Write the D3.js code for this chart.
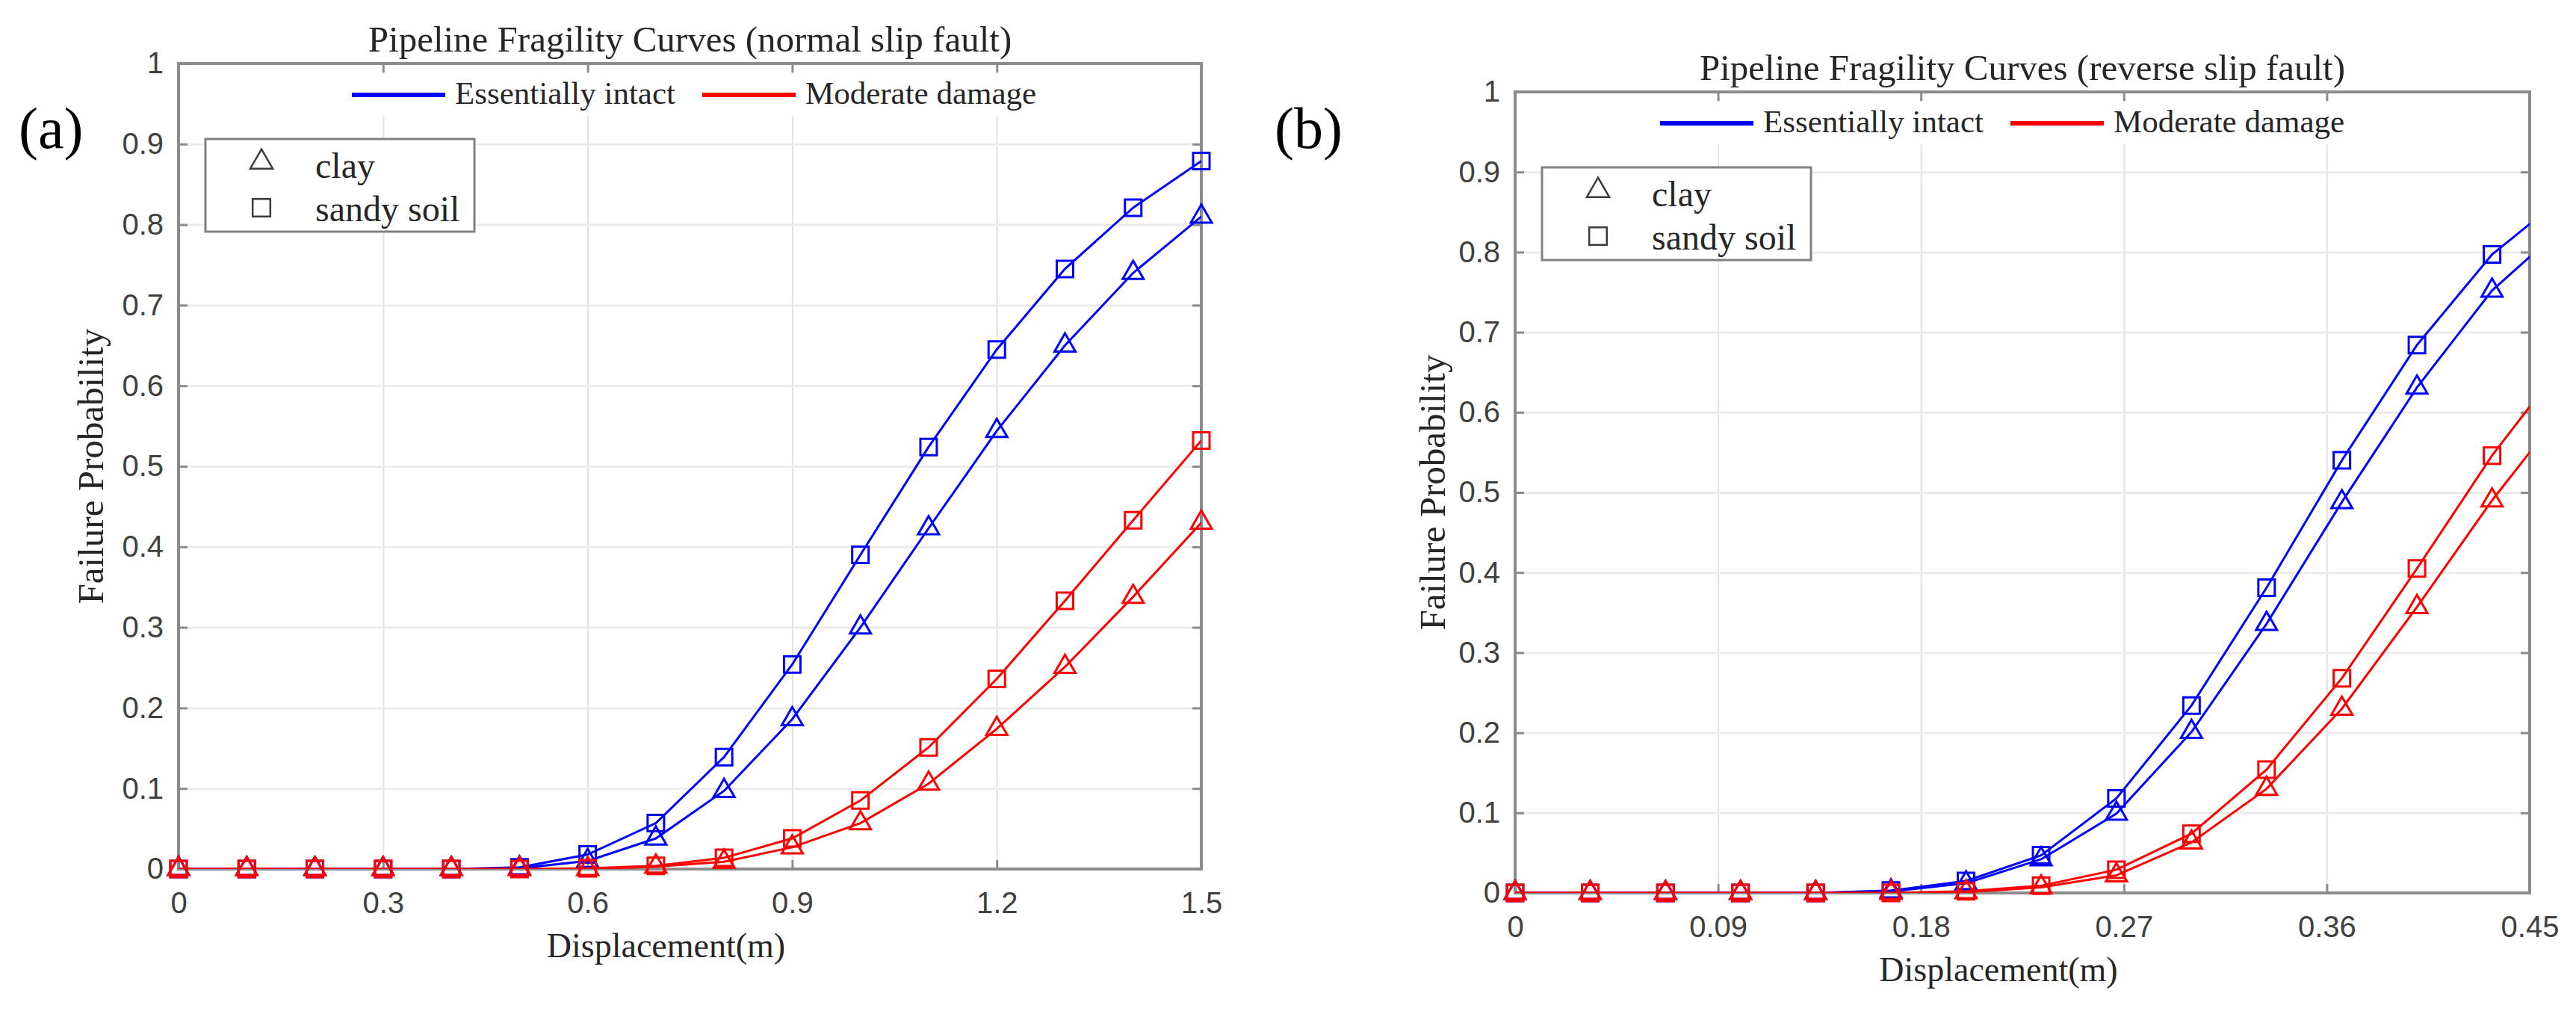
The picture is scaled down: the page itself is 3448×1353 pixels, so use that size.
<!DOCTYPE html>
<html lang="en">
<head>
    <meta charset="UTF-8">
    <title>Pipeline Fragility Curves</title>
    <script src="https://d3js.org/d3.v7.min.js"></script>
    <style>
        body {
            margin: 0;
            background: #fff;
        }
        svg {
            display: block;
        }
        .axis text {
            font-family: "Liberation Sans", Arial, sans-serif;
            font-size: 40px;
            fill: #404040;
        }
        .serif {
            font-family: "Liberation Serif", "Times New Roman", serif;
            fill: #262626;
        }
    </style>
</head>
<body>
    <svg width="3448" height="1353"></svg>

    <script>
        // ---- (a) normal slip fault ----
        const dispA = [0, 0.1, 0.2, 0.3, 0.4, 0.5, 0.6, 0.7, 0.8, 0.9, 1.0, 1.1, 1.2, 1.3, 1.4, 1.5];
        const intactSandA = [0, 0, 0, 0, 0, 0.002, 0.018, 0.057, 0.139, 0.254, 0.390, 0.524, 0.645, 0.745, 0.821, 0.879];
        const intactClayA = [0, 0, 0, 0, 0, 0.001, 0.010, 0.038, 0.097, 0.186, 0.300, 0.423, 0.544, 0.650, 0.740, 0.810];
        const moderateSandA = [0, 0, 0, 0, 0, 0, 0.001, 0.004, 0.014, 0.038, 0.085, 0.151, 0.236, 0.333, 0.433, 0.532];
        const moderateClayA = [0, 0, 0, 0, 0, 0, 0, 0.003, 0.009, 0.027, 0.057, 0.106, 0.174, 0.251, 0.338, 0.430];

        // ---- (b) reverse slip fault (last point lies past the axis edge) ----
        const dispB = [0, 0.0333, 0.0667, 0.1, 0.1333, 0.1667, 0.2, 0.2333, 0.2667, 0.3, 0.3333, 0.3667, 0.4, 0.4333, 0.4667];
        const intactSandB = [0, 0, 0, 0, 0, 0.003, 0.015, 0.047, 0.118, 0.234, 0.381, 0.540, 0.684, 0.797, 0.873];
        const intactClayB = [0, 0, 0, 0, 0, 0.002, 0.012, 0.042, 0.099, 0.201, 0.336, 0.488, 0.631, 0.752, 0.836];
        const moderateSandB = [0, 0, 0, 0, 0, 0, 0.002, 0.009, 0.029, 0.074, 0.154, 0.268, 0.405, 0.546, 0.668];
        const moderateClayB = [0, 0, 0, 0, 0, 0, 0.001, 0.007, 0.022, 0.063, 0.130, 0.230, 0.357, 0.490, 0.610];

        // ticks and labels
        const yTicks = [0, 0.1, 0.2, 0.3, 0.4, 0.5, 0.6, 0.7, 0.8, 0.9, 1];
        const xTicksA = [0, 0.3, 0.6, 0.9, 1.2, 1.5];
        const xTicksB = [0, 0.09, 0.18, 0.27, 0.36, 0.45];
        const damageStates = ["Essentially intact", "Moderate damage"];
        const soilTypes = ["clay", "sandy soil"];

        const stateColor = { "Essentially intact": "#0000ff", "Moderate damage": "#ff0000" };
        const soilSymbol = { "clay": d3.symbolTriangle, "sandy soil": d3.symbolSquare };
        const symbolSize = { "clay": 340, "sandy soil": 484 };

        const panels = [
            {
                tag: "(a)", title: "Pipeline Fragility Curves (normal slip fault)",
                disp: dispA, xTicks: xTicksA, xMax: 1.5,
                series: [
                    { values: intactSandA, state: "Essentially intact", soil: "sandy soil" },
                    { values: intactClayA, state: "Essentially intact", soil: "clay" },
                    { values: moderateSandA, state: "Moderate damage", soil: "sandy soil" },
                    { values: moderateClayA, state: "Moderate damage", soil: "clay" }
                ],
                box: { left: 239, right: 1608, top: 85, bottom: 1163 },
                tagX: 25, yLabelGap: 101, legendX: 232
            },
            {
                tag: "(b)", title: "Pipeline Fragility Curves (reverse slip fault)",
                disp: dispB, xTicks: xTicksB, xMax: 0.45,
                series: [
                    { values: intactSandB, state: "Essentially intact", soil: "sandy soil" },
                    { values: intactClayB, state: "Essentially intact", soil: "clay" },
                    { values: moderateSandB, state: "Moderate damage", soil: "sandy soil" },
                    { values: moderateClayB, state: "Moderate damage", soil: "clay" }
                ],
                box: { left: 2028, right: 3386, top: 123, bottom: 1195 },
                tagX: 1706, yLabelGap: 94, legendX: 194
            }
        ];

        const svg = d3.select("svg");

        panels.forEach((p, i) => {
            const b = p.box;
            const w = b.right - b.left;
            const h = b.bottom - b.top;
            const g = svg.append("g");

            const x = d3.scaleLinear().domain([0, p.xMax]).range([b.left, b.right]);
            const y = d3.scaleLinear().domain([0, 1]).range([b.bottom, b.top]);

            // grid lines
            g.append("g")
                .attr("transform", `translate(0,${b.bottom})`)
                .call(d3.axisBottom(x).tickValues(p.xTicks).tickSize(-h).tickFormat(""))
                .call(s => s.select(".domain").remove())
                .selectAll("line").attr("stroke", "#e2e2e2").attr("stroke-width", 2);
            g.append("g")
                .attr("transform", `translate(${b.left},0)`)
                .call(d3.axisLeft(y).tickValues(yTicks).tickSize(-w).tickFormat(""))
                .call(s => s.select(".domain").remove())
                .selectAll("line").attr("stroke", "#ebebeb").attr("stroke-width", 3);

            // box
            g.append("rect")
                .attr("x", b.left).attr("y", b.top)
                .attr("width", w).attr("height", h)
                .attr("fill", "none")
                .attr("stroke", "#8c8c8c")
                .attr("stroke-width", 4);

            // axes, ticks pointing inward on all four sides
            const axisStyle = s => {
                s.select(".domain").remove();
                s.selectAll(".tick line").attr("stroke", "#8c8c8c").attr("stroke-width", 3);
            };
            g.append("g").attr("class", "axis")
                .attr("transform", `translate(0,${b.bottom})`)
                .call(d3.axisBottom(x).tickValues(p.xTicks).tickSizeInner(-12).tickSizeOuter(0).tickPadding(31).tickFormat(d => d))
                .call(axisStyle);
            g.append("g").attr("class", "axis")
                .attr("transform", `translate(0,${b.top})`)
                .call(d3.axisTop(x).tickValues(p.xTicks).tickSizeInner(-12).tickSizeOuter(0).tickFormat(""))
                .call(axisStyle);
            g.append("g").attr("class", "axis")
                .attr("transform", `translate(${b.left},0)`)
                .call(d3.axisLeft(y).tickValues(yTicks).tickSizeInner(-12).tickSizeOuter(0).tickPadding(20).tickFormat(d => d))
                .call(axisStyle);
            g.append("g").attr("class", "axis")
                .attr("transform", `translate(${b.right},0)`)
                .call(d3.axisRight(y).tickValues(yTicks).tickSizeInner(-12).tickSizeOuter(0).tickFormat(""))
                .call(axisStyle);

            // clip for the curves
            const clipId = "clip" + i;
            svg.append("clipPath").attr("id", clipId)
                .append("rect")
                .attr("x", b.left).attr("y", b.top - 2)
                .attr("width", w).attr("height", h + 2);

            const line = d3.line()
                .x(d => x(d[0]))
                .y(d => y(d[1]));

            p.series.forEach(s => {
                const pts = p.disp.map((d, k) => [d, s.values[k]]);
                g.append("path")
                    .datum(pts)
                    .attr("clip-path", `url(#${clipId})`)
                    .attr("fill", "none")
                    .attr("stroke", stateColor[s.state])
                    .attr("stroke-width", 3)
                    .attr("d", line);

                g.append("g")
                    .selectAll("path")
                    .data(pts.filter(d => d[0] <= p.xMax + 1e-9))
                    .join("path")
                    .attr("d", d3.symbol(soilSymbol[s.soil], symbolSize[s.soil]))
                    .attr("transform", d => `translate(${x(d[0])},${y(d[1])})`)
                    .attr("fill", "none")
                    .attr("stroke", stateColor[s.state])
                    .attr("stroke-width", 3);
            });

            // panel tag
            svg.append("text")
                .attr("class", "serif")
                .attr("x", p.tagX)
                .attr("y", 198)
                .style("font-size", "78px")
                .style("fill", "#000")
                .text(p.tag);

            // title
            svg.append("text")
                .attr("class", "serif")
                .attr("x", (b.left + b.right) / 2)
                .attr("y", b.top - 16)
                .attr("text-anchor", "middle")
                .style("font-size", "49px")
                .text(p.title);

            // axis labels
            svg.append("text")
                .attr("class", "serif")
                .attr("x", (b.left + b.right) / 2 - 32)
                .attr("y", b.bottom + 118)
                .attr("text-anchor", "middle")
                .style("font-size", "46px")
                .text("Displacement(m)");
            svg.append("text")
                .attr("class", "serif")
                .attr("transform", `translate(${b.left - p.yLabelGap},${(b.top + b.bottom) / 2}) rotate(-90)`)
                .attr("text-anchor", "middle")
                .style("font-size", "49px")
                .text("Failure Probability");

            // damage-state legend (white background, no border)
            const lg = g.append("g");
            const lgBg = lg.append("rect").attr("fill", "#fff");
            let cx = b.left + p.legendX;
            damageStates.forEach(st => {
                lg.append("line")
                    .attr("x1", cx).attr("x2", cx + 125)
                    .attr("y1", b.top + 42).attr("y2", b.top + 42)
                    .attr("stroke", stateColor[st])
                    .attr("stroke-width", 6);
                const t = lg.append("text")
                    .attr("class", "serif")
                    .attr("x", cx + 138)
                    .attr("y", b.top + 54)
                    .style("font-size", "43px")
                    .text(st);
                cx += 138 + t.node().getComputedTextLength() + 36;
            });
            lgBg.attr("x", b.left + p.legendX - 12)
                .attr("y", b.top + 14)
                .attr("width", cx - 36 - (b.left + p.legendX) + 24)
                .attr("height", 56);

            // soil-type legend (gray bordered box)
            const bx = b.left + 36, by = b.top + 101;
            const sg = g.append("g");
            sg.append("rect")
                .attr("x", bx).attr("y", by)
                .attr("width", 360).attr("height", 124)
                .attr("fill", "#fff")
                .attr("stroke", "#808080")
                .attr("stroke-width", 3);
            soilTypes.forEach((soil, k) => {
                const my = by + 31 + k * 61;
                sg.append("path")
                    .attr("d", d3.symbol(soilSymbol[soil], soil === "clay" ? 390 : 560))
                    .attr("transform", `translate(${bx + 75},${my})`)
                    .attr("fill", "none")
                    .attr("stroke", "#3a3a3a")
                    .attr("stroke-width", 2.5);
                sg.append("text")
                    .attr("class", "serif")
                    .attr("x", bx + 147)
                    .attr("y", by + 52 + k * 58)
                    .style("font-size", "48px")
                    .text(soil);
            });
        });
    </script>
</body>
</html>
